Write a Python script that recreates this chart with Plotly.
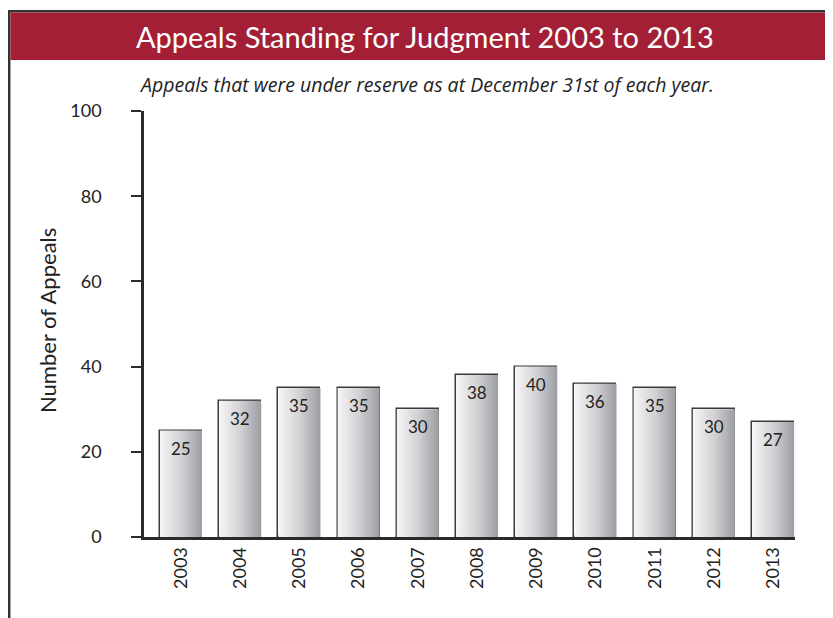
import plotly.graph_objects as go

years = ['2003', '2004', '2005', '2006', '2007', '2008', '2009', '2010', '2011', '2012', '2013']
appeals = [25, 32, 35, 35, 30, 38, 40, 36, 35, 30, 27]

# page body adds 8px around the figure, so the figure is a bit smaller and shifted
OFF = 8
W, H = 833 - OFF, 618 - OFF
ML, MR, MT, MB = 144 - OFF, 38, 111 - OFF, 81
BAR_W = 0.71
FONT = 'Lato'


def px_x(p):
    return (p - OFF - ML) / (W - ML - MR)


def px_y(p):
    return 1 - (p - OFF - MT) / (H - MT - MB)


fig = go.Figure()

# gradient fill for each bar
for i, v in enumerate(appeals):
    x0, x1 = i - BAR_W / 2, i + BAR_W / 2
    fig.add_trace(go.Scatter(
        x=[x0, x1, x1, x0, x0], y=[0, 0, v, v, 0],
        fill='toself', mode='lines', line=dict(width=0),
        fillgradient=dict(type='horizontal',
                          colorscale=[[0, '#f6f6f8'], [0.5, '#d2d2d5'], [1, '#9c9da2']]),
        hoverinfo='skip', showlegend=False))

fig.add_trace(go.Bar(
    x=list(range(len(years))), y=appeals, width=BAR_W,
    marker=dict(color='rgba(0,0,0,0)', line=dict(color='#3a3a3a', width=1.5)),
    showlegend=False))

for i, v in enumerate(appeals):
    fig.add_annotation(x=i, y=v, text=str(v), showarrow=False, yanchor='top',
                       yshift=-5, font=dict(family=FONT, size=17, color='#222'))

fig.update_xaxes(range=[-0.625, 10.37], tickvals=list(range(len(years))), ticktext=years,
                 tickangle=-90, showline=True, linecolor='#2a2a2a', linewidth=3,
                 ticks='', showgrid=False, zeroline=False,
                 tickfont=dict(family=FONT, size=18, color='#222'))
fig.update_yaxes(range=[0, 100], tickvals=[0, 20, 40, 60, 80, 100],
                 showline=True, linecolor='#2a2a2a', linewidth=2.5,
                 ticks='outside', ticklen=10, tickwidth=2, tickcolor='#2a2a2a',
                 ticklabelstandoff=26, showgrid=False, zeroline=False,
                 tickfont=dict(family=FONT, size=18, color='#222'))

# frame and red header band
fig.add_shape(type='rect', xref='paper', yref='paper',
              x0=px_x(9.2), x1=px_x(840), y0=px_y(625), y1=px_y(11.2),
              line=dict(color='#333333', width=2.5), fillcolor='white', layer='below')
fig.add_shape(type='rect', xref='paper', yref='paper',
              x0=px_x(10.5), x1=px_x(840), y0=px_y(60), y1=px_y(12.5),
              line=dict(width=0), fillcolor='#a31f35', layer='below')

fig.add_annotation(xref='paper', yref='paper', x=px_x(425), y=px_y(36),
                   text='Appeals Standing for Judgment 2003 to 2013', showarrow=False,
                   xanchor='center', yanchor='middle',
                   font=dict(family=FONT, size=29, color='white'))
fig.add_annotation(xref='paper', yref='paper', x=px_x(426), y=px_y(84),
                   text='<i>Appeals that were under reserve as at December 31st of each year.</i>',
                   showarrow=False, xanchor='center', yanchor='middle',
                   font=dict(family='Open Sans', size=19.5, color='#222'))
fig.add_annotation(xref='paper', yref='paper', x=px_x(47), y=px_y(321),
                   text='Number of Appeals', textangle=-90, showarrow=False,
                   xanchor='center', yanchor='middle',
                   font=dict(family=FONT, size=22, color='#222'))

fig.update_layout(width=W, height=H, margin=dict(l=ML, r=MR, t=MT, b=MB),
                  plot_bgcolor='white', paper_bgcolor='white', bargap=0)

fig.write_html('out.html')
